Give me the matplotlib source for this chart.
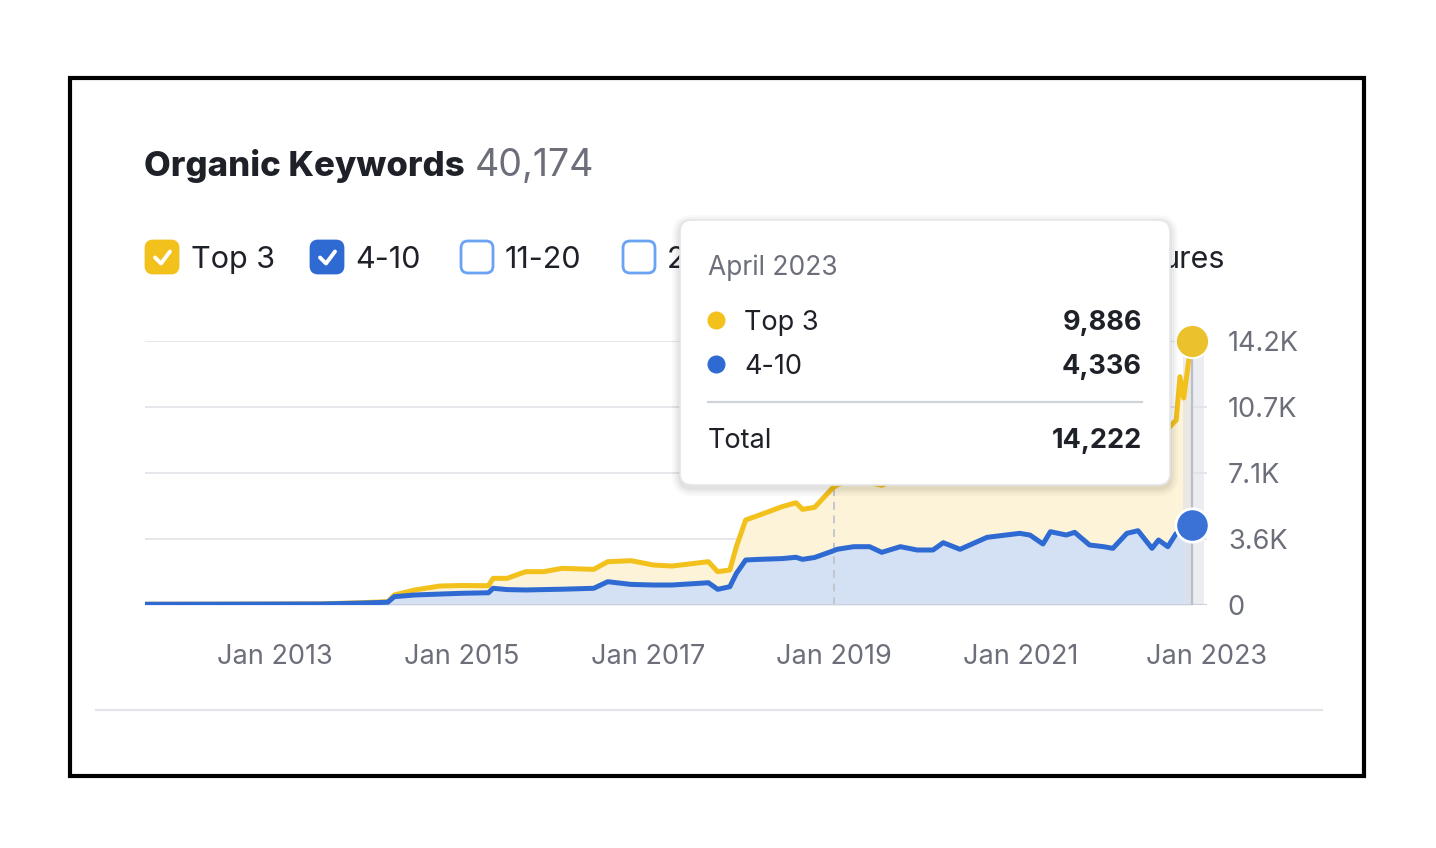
import matplotlib
matplotlib.use("Agg")
import numpy as np
from matplotlib import pyplot as plt
from matplotlib.patches import FancyBboxPatch, Rectangle
from matplotlib.lines import Line2D
from matplotlib.transforms import Affine2D

W, H = 1436, 848
plt.rcParams['font.family'] = ['Inter', 'DejaVu Sans']

# decimal years
years = [2011.60, 2012.50, 2013.50, 2013.90, 2014.21, 2014.28, 2014.50, 2014.77,
         2015.00, 2015.29, 2015.34, 2015.49, 2015.69, 2015.88, 2016.08, 2016.42,
         2016.57, 2016.82, 2017.06, 2017.26, 2017.65, 2017.75, 2017.88, 2017.95,
         2018.05, 2018.20, 2018.44, 2018.59, 2018.66, 2018.79, 2018.98, 2019.03,
         2019.21, 2019.38, 2019.51, 2019.71, 2019.89, 2020.06, 2020.17, 2020.35,
         2020.64, 2020.99, 2021.10, 2021.24, 2021.32, 2021.49, 2021.58, 2021.74,
         2021.89, 2021.99, 2022.14, 2022.26, 2022.41, 2022.48, 2022.58, 2022.67,
         2022.71, 2022.75, 2022.80, 2022.84]
pos_4_10 = [40, 45, 55, 100, 150, 450, 540, 590,
            630, 660, 900, 830, 810, 830, 850, 900,
            1255, 1110, 1077, 1077, 1200, 845, 985, 1700,
            2424, 2460, 2500, 2570, 2460, 2560, 2900, 3000,
            3142, 3142, 2837, 3142, 2963, 2963, 3357, 3000,
            3645, 3860, 3770, 3286, 3950, 3770, 3915, 3232,
            3142, 3053, 3860, 4003, 3053, 3500, 3142, 3860,
            3900, 4000, 4150, 4336]
top_3 = [0, 0, 5, 20, 30, 90, 270, 433,
         420, 380, 536, 606, 985, 965, 1125, 1020,
         1078, 1277, 1078, 1023, 1133, 950, 900, 1442,
         2156, 2390, 2795, 2940, 2695, 2700, 3387, 3464,
         3658, 3458, 3613, 3758, 4237, 4337, 4243, 4500,
         4455, 4740, 4730, 5014, 4850, 4930, 4985, 5368,
         5658, 5847, 5540, 5597, 6247, 6200, 6358, 6106,
         8400, 7150, 8886, 9886]

tick_years = [2013, 2015, 2017, 2019, 2021, 2023]
tick_labels = ["Jan 2013", "Jan 2015", "Jan 2017", "Jan 2019", "Jan 2021", "Jan 2023"]
y_ticks = [0, 3555.5, 7111, 10666.5, 14222]
y_labels = ["0", "3.6K", "7.1K", "10.7K", "14.2K"]

YELLOW = "#f2c11c"
BLUE = "#2f6ad3"
GREY = "#6c6f7a"
DARK = "#1f2129"

fig = plt.figure(figsize=(W / 100, H / 100), dpi=100)
T = Affine2D().scale(1 / W, -1 / H).translate(0, 1) + fig.transFigure

ax_l, ax_r, ax_t, ax_b = 145, 1207, 341, 605
ax = fig.add_axes([ax_l / W, 1 - ax_b / H, (ax_r - ax_l) / W, (ax_b - ax_t) / H])

x = np.array(years)
blue = np.array(pos_4_10)
total = blue + np.array(top_3)

ax.fill_between(x, 0, blue, color="#d4e1f5", lw=0, zorder=1)
ax.fill_between(x, blue, total, color="#fdf3d8", lw=0, zorder=1)
ax.plot(x, total, color=YELLOW, lw=3.6, solid_joinstyle="round", zorder=3)
ax.plot(x, blue, color=BLUE, lw=3.6, solid_joinstyle="round", zorder=4)

# hover band and guide lines
ax.axvspan(2022.745, 2022.965, color="#dfe2e8", alpha=0.6, lw=0, zorder=2)
ax.plot([x[-1], x[-1]], [0, total[-1]], color="#b9bec8", lw=1.6, zorder=5)
ax.axvline(2019.0, color="#c3c6cd", lw=1.4, ls=(0, (4, 3)), zorder=2)
ax.plot(x[-1], total[-1], "o", ms=24, color="#ecc12e", mec="white", mew=1.5,
        clip_on=False, zorder=6)
ax.plot(x[-1], blue[-1], "o", ms=24, color="#3a72d6", mec="white", mew=2,
        clip_on=False, zorder=6)

ax.set_xlim(2011.605, 2023.0)
ax.set_ylim(0, 14222)
ax.set_xticks(tick_years)
ax.set_xticklabels(tick_labels)
ax.set_yticks(y_ticks)
ax.set_yticklabels(y_labels)
ax.yaxis.tick_right()
ax.tick_params(axis="both", length=0, labelsize=19.5, labelcolor=GREY)
ax.tick_params(axis="y", pad=15)
ax.tick_params(axis="x", pad=28)
ax.grid(axis="y", color="#e3e5e9", lw=1.3, zorder=0)
ax.set_axisbelow(True)
for s in ax.spines.values():
    s.set_visible(False)
ax.axhline(0, color="#cdd0d6", lw=1.6, zorder=2)
ax.patch.set_alpha(0)

# title
fig.text(144, 166, "Organic Keywords", transform=T, fontsize=25, fontweight=800,
         color=DARK, va="center")
fig.text(475, 166, "40,174", transform=T, fontsize=27, color=GREY, va="center")

# legend checkboxes
def checkbox(x0, filled, color):
    box = FancyBboxPatch((x0 + 1, 241), 32, 32, boxstyle="round,pad=0,rounding_size=7",
                         transform=T, fc=color if filled else "white",
                         ec=color, lw=2, zorder=2)
    fig.add_artist(box)
    if filled:
        fig.add_artist(Line2D([x0 + 10, x0 + 16, x0 + 25], [257.5, 263.5, 251.5], transform=T,
                              color="white", lw=2.8, solid_capstyle="round",
                              solid_joinstyle="round", zorder=3))

checkbox(145, True, YELLOW)
checkbox(310, True, BLUE)
checkbox(460, False, "#6aa3f3")
checkbox(622, False, "#6aa3f3")
legend_items = [(191, "Top 3"), (355, "4-10"), (505, "11-20")]
for lx, lt in legend_items:
    fig.text(lx, 260, lt, transform=T, fontsize=22, color=DARK, va="center", zorder=2)

# legend entries partly hidden behind the tooltip: only their visible parts
left_clip = Rectangle((0, 200), 680, 100, transform=T)
right_clip = Rectangle((1170, 200), 266, 100, transform=T)
t = fig.text(667, 260, "2", transform=T, fontsize=22, color=DARK, va="center", zorder=2)
t.set_clip_path(left_clip)
t = fig.text(1225, 260, "ures", transform=T, fontsize=22, color=DARK,
             va="center", ha="right", zorder=2)
t.set_clip_path(right_clip)

# tooltip
for i, a in enumerate([0.025, 0.025, 0.03, 0.035]):
    g = 8 - 2 * i
    fig.add_artist(FancyBboxPatch((680 - g, 220 - g + 3), 490 + 2 * g, 265 + 2 * g,
                                  boxstyle="round,pad=0,rounding_size=%d" % (12 + g),
                                  transform=T, fc="black", alpha=a, lw=0, zorder=8))
fig.add_artist(FancyBboxPatch((680, 220), 490, 265, boxstyle="round,pad=0,rounding_size=12",
                              transform=T, fc="white", ec="#e4e6ea", lw=1.2, zorder=9))
fig.text(708, 268, "April 2023", transform=T, fontsize=19, color=GREY, va="center", zorder=10)
tooltip_rows = [(320, "Top 3", "9,886", YELLOW), (364, "4-10", "4,336", BLUE)]
for ty, name, val, c in tooltip_rows:
    fig.add_artist(Line2D([716], [ty], transform=T, marker="o", ms=12, color=c, lw=0, zorder=10))
    fig.text(744, ty + 3, name, transform=T, fontsize=19.5, color=DARK, va="center", zorder=10)
    fig.text(1142, ty + 3, val, transform=T, fontsize=19.5, color=DARK, fontweight="bold",
             va="center", ha="right", zorder=10)
fig.add_artist(Line2D([708, 1142], [402, 402], transform=T, color="#cfd2d9", lw=1.6, zorder=10))
fig.text(708, 441, "Total", transform=T, fontsize=19.5, color=DARK, va="center", zorder=10)
fig.text(1142, 441, "14,222", transform=T, fontsize=19.5, color=DARK, fontweight="bold",
         va="center", ha="right", zorder=10)

# bottom separator and frame
fig.add_artist(Line2D([96, 1322], [710, 710], transform=T, color="#e2e4e9", lw=1.6))
fig.add_artist(Rectangle((70, 78), 1294, 698, transform=T, fill=False, ec="black", lw=3))

fig.savefig("out.png", dpi=100)
